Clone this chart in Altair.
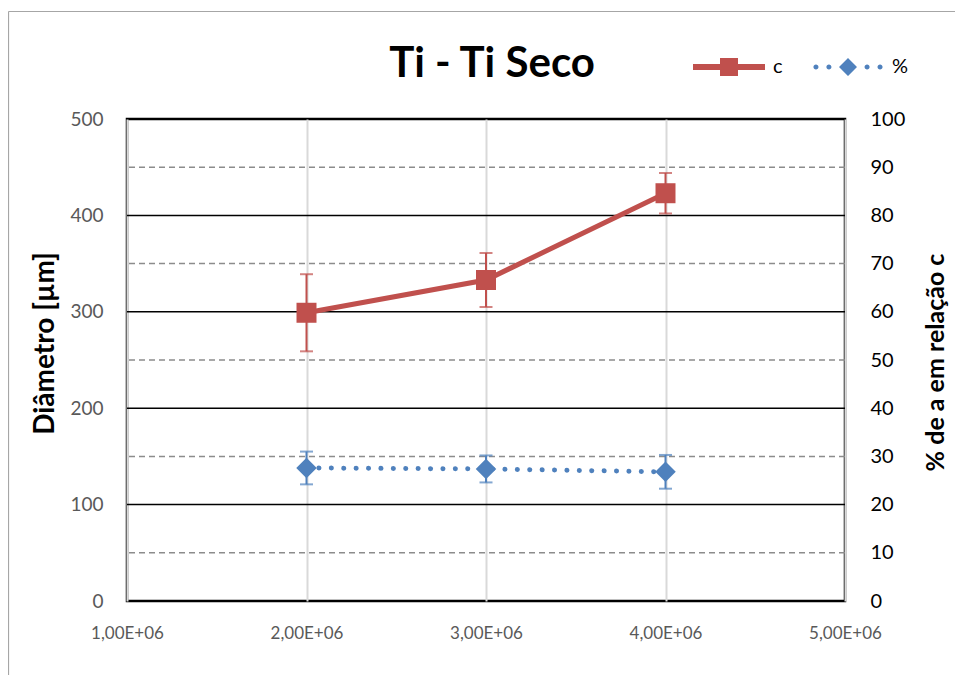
import altair as alt
import pandas as pd

# ---- data ----
x_vals = [2e6, 3e6, 4e6]
c_vals = [299, 333, 423]
c_err = [40, 28, 21]
pct_vals = [27.6, 27.4, 26.8]
pct_err = [3.4, 2.8, 3.5]
series_names = ["c", "%"]

x_ticks = [1e6, 2e6, 3e6, 4e6, 5e6]
left_ticks = [0, 100, 200, 300, 400, 500]
right_ticks = [0, 10, 20, 30, 40, 50, 60, 70, 80, 90, 100]
major_grid = [100, 200, 300, 400]
minor_grid = [50, 150, 250, 350, 450]

RED = "#C0504D"
BLUE = "#4F81BD"
FONT = "Lato"

df_c = pd.DataFrame({
    "x": x_vals, "y": c_vals,
    "lo": [v - e for v, e in zip(c_vals, c_err)],
    "hi": [v + e for v, e in zip(c_vals, c_err)],
    "series": ["c"] * len(x_vals),
})
df_p = pd.DataFrame({
    "x": x_vals, "y": pct_vals,
    "lo": [v - e for v, e in zip(pct_vals, pct_err)],
    "hi": [v + e for v, e in zip(pct_vals, pct_err)],
    "series": ["%"] * len(x_vals),
})
df_all = pd.concat([df_c, df_p], ignore_index=True)
df_major = pd.DataFrame({"g": major_grid})
df_minor = pd.DataFrame({"g": minor_grid})
df_one = pd.DataFrame({"k": [0]})

x_scale = alt.Scale(domain=[1e6, 5e6], nice=False, zero=False)
left_scale = alt.Scale(domain=[0, 500], nice=False)
right_scale = alt.Scale(domain=[0, 100], nice=False)

x_axis = alt.Axis(
    values=x_ticks, title=None, grid=True, gridColor="#D9D9D9", gridWidth=2,
    domain=False, ticks=False, labelPadding=24, labelFontSize=17, labelFlush=False,
    labelColor="#595959", labelFont=FONT,
    labelExpr="replace(replace(format(datum.value, '.2e'), '.', ','), 'e+', 'E+0')",
)
left_axis = alt.Axis(
    values=left_ticks, title="Diâmetro [µm]", grid=False, domain=False, ticks=False,
    labelPadding=24, labelFontSize=19, labelColor="#595959", labelFont=FONT,
    titleFont=FONT, titleFontSize=28, titleFontWeight="bold", titleColor="black",
    titleAngle=270, titleAlign="center", titleBaseline="middle",
    titleX=-82, titleY=224,
)
right_axis = alt.Axis(
    values=right_ticks, orient="right", title="% de a em relação c", grid=False,
    domain=False, ticks=False, labelPadding=25, labelFontSize=20, labelColor="black",
    labelFont=FONT, titleFont=FONT, titleFontSize=25, titleFontWeight="bold",
    titleColor="black", titleAngle=270, titleAlign="center", titleBaseline="middle",
    titleX=90, titleY=243,
)

X = alt.X("x:Q", scale=x_scale, axis=x_axis)
def YL(f):
    return alt.Y(f, scale=left_scale, axis=left_axis)
def YR(f):
    return alt.Y(f, scale=right_scale, axis=right_axis)

path_c = "M-1,-0.083H1V0.083H-1Z M-0.25,-0.25H0.25V0.25H-0.25Z"
def dot(cx, r=0.07):
    return f"M{cx - r},0a{r},{r} 0 1,0 {2 * r},0a{r},{r} 0 1,0 {-2 * r},0Z"
path_p = (dot(-0.89) + " " + dot(-0.53) + " " + dot(0.53) + " " + dot(0.89)
          + " M0,-0.25L0.25,0L0,0.25L-0.25,0Z")

legend = alt.Legend(
    title=None, orient="none", legendX=566, legendY=-88, direction="horizontal",
    symbolSize=5184, symbolStrokeWidth=0, labelFont=FONT, labelFontSize=20,
    labelColor="black", labelOffset=8, columnPadding=29, padding=0,
    symbolOpacity=1,
)

# ---- decorative chart-area border (gray, like the Excel chart frame) ----
border_left = alt.Chart(df_one).mark_rule(color="#A6A6A6", strokeWidth=1.2).encode(
    x=alt.value(-118.5), y=alt.value(-107.5), y2=alt.value(600)
)
border_top = alt.Chart(df_one).mark_rule(color="#A6A6A6", strokeWidth=1.2).encode(
    x=alt.value(-118.5), x2=alt.value(845), y=alt.value(-107.5)
)

# ---- left (Diâmetro) layer ----
minor_rules = alt.Chart(df_minor).mark_rule(color="#8C8C8C", strokeWidth=1.5, strokeDash=[6, 4]).encode(
    y=YL("g:Q")
)
major_rules = alt.Chart(df_major).mark_rule(color="black", strokeWidth=1.5).encode(
    y=YL("g:Q")
)
xgrid = alt.Chart(df_c).mark_rule(opacity=0).encode(x=X)
c_bar = alt.Chart(df_c).mark_rule(color=RED, strokeWidth=2).encode(
    x=X, y=YL("lo:Q"), y2="hi:Q"
)
c_caps = alt.Chart(df_c).transform_fold(["lo", "hi"], as_=["end", "val"]).mark_tick(
    color=RED, orient="horizontal", size=13, thickness=2
).encode(x=X, y=YL("val:Q"))
c_line = alt.Chart(df_c).mark_line(color=RED, strokeWidth=5).encode(x=X, y=YL("y:Q"))
c_pts = alt.Chart(df_c).mark_point(shape="square", size=400, filled=True, opacity=1, color=RED).encode(
    x=X, y=YL("y:Q")
)
legend_pts = alt.Chart(df_all).mark_point(filled=True, opacity=0).encode(
    x=X, y=YL("y:Q"),
    color=alt.Color("series:N", scale=alt.Scale(domain=series_names, range=[RED, BLUE]), legend=legend),
    shape=alt.Shape("series:N", scale=alt.Scale(domain=series_names, range=[path_c, path_p]), legend=legend),
)
left_layer = alt.layer(minor_rules, major_rules, xgrid, c_bar, c_caps, c_line, c_pts, legend_pts)

# ---- right (%) layer ----
p_bar = alt.Chart(df_p).mark_rule(color=BLUE, strokeWidth=2).encode(
    x=X, y=YR("lo:Q"), y2="hi:Q"
)
p_caps = alt.Chart(df_p).transform_fold(["lo", "hi"], as_=["end", "val"]).mark_tick(
    color=BLUE, orient="horizontal", size=13, thickness=2
).encode(x=X, y=YR("val:Q"))
p_line = alt.Chart(df_p).mark_line(
    color=BLUE, strokeWidth=5, strokeDash=[0.1, 12.3], strokeCap="round"
).encode(x=X, y=YR("y:Q"))
p_pts = alt.Chart(df_p).mark_point(shape="diamond", size=420, filled=True, opacity=1, color=BLUE).encode(
    x=X, y=YR("y:Q")
)
right_layer = alt.layer(p_bar, p_caps, p_line, p_pts)

chart = alt.layer(border_left, border_top, left_layer, right_layer).resolve_scale(y="independent").properties(
    width=718, height=482,
    title=alt.TitleParams(
        text="Ti - Ti Seco", font=FONT, fontSize=42, fontWeight="bold", color="black",
        anchor="middle", frame="group", dx=6, offset=-75,
    ),
    autosize=alt.AutoSizeParams(type="none"),
    padding={"left": 119, "top": 111, "right": 110, "bottom": 74},
).configure(background="white").configure_view(stroke="black", strokeWidth=2.5)

chart.save("out.html", embed_options={"renderer": "svg", "actions": False})
